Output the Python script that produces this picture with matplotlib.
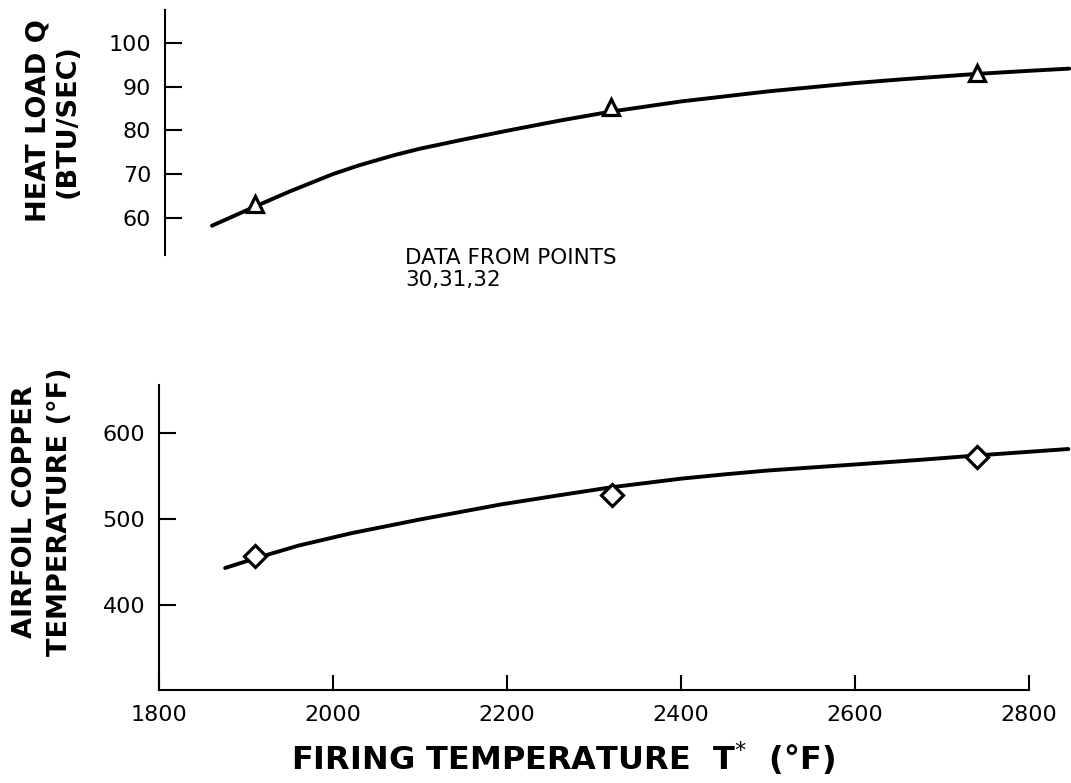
import matplotlib.pyplot as plt

# firing temperature of test points 30, 31, 32 (deg F)
point_temp = [1910, 2320, 2740]
heat_load = [63.2, 85.4, 93.2]          # BTU/sec
copper_temp = [457, 528, 572]           # deg F

# faired curves as drawn in the original figure
heat_curve_x = [1861, 1913, 1950, 2000, 2030, 2070, 2100, 2150, 2185, 2200, 2260,
                2320, 2400, 2500, 2600, 2650, 2740, 2800, 2846]
heat_curve_y = [58.2, 62.8, 66.0, 70.0, 72.0, 74.3, 75.8, 77.9, 79.3, 79.9, 82.2,
                84.3, 86.6, 88.9, 90.8, 91.6, 92.9, 93.6, 94.1]
copper_curve_x = [1876, 1910, 1960, 2021, 2100, 2193, 2262, 2320, 2400, 2450, 2500,
                  2600, 2676, 2740, 2845]
copper_curve_y = [443, 454, 469, 483.5, 499.5, 517, 528, 537, 547, 552, 556.5,
                  563.5, 569, 574, 581.5]

heat_ticks = [60, 70, 80, 90, 100]
copper_ticks = [400, 500, 600]
temp_ticks = [1800, 2000, 2200, 2400, 2600, 2800]

W, H = 1071, 783
fig = plt.figure(figsize=(W / 100, H / 100), dpi=100)


def add_axes_px(left, top, right, bottom):
    return fig.add_axes([left / W, 1 - bottom / H, (right - left) / W, (bottom - top) / H])


# top panel: heat load
ax1 = add_axes_px(165, 10, 1071, 255)
ax1.plot(heat_curve_x, heat_curve_y, color='black', linewidth=2.8,
         solid_capstyle='round', solid_joinstyle='round')
ax1.plot(point_temp, heat_load, linestyle='none', marker='^', markersize=11.5,
         markerfacecolor='white', markeredgecolor='black', markeredgewidth=2.3)
ax1.set_xlim(1807, 2848)
ax1.set_ylim(51.5, 107.5)
ax1.set_yticks(heat_ticks)
ax1.set_xticks([])
for side in ['top', 'right', 'bottom']:
    ax1.spines[side].set_visible(False)
ax1.spines['left'].set_linewidth(1.5)
ax1.tick_params(axis='y', direction='in', length=12, width=1.5, labelsize=16, pad=10)
ax1.patch.set_alpha(0)

# bottom panel: airfoil copper temperature
ax2 = add_axes_px(159, 385, 1071, 690)
ax2.plot(copper_curve_x, copper_curve_y, color='black', linewidth=2.8,
         solid_capstyle='round', solid_joinstyle='round')
ax2.plot(point_temp, copper_temp, linestyle='none', marker='D', markersize=11,
         markerfacecolor='white', markeredgecolor='black', markeredgewidth=2.3)
ax2.set_xlim(1800, 2848)
ax2.set_ylim(301, 656)
ax2.set_yticks(copper_ticks)
ax2.set_xticks(temp_ticks)
ax2.spines['top'].set_visible(False)
ax2.spines['right'].set_visible(False)
ax2.spines['bottom'].set_bounds(1800, 2800)
ax2.spines['left'].set_linewidth(1.5)
ax2.spines['bottom'].set_linewidth(1.5)
ax2.tick_params(axis='y', direction='in', length=12, width=1.5, labelsize=16, pad=10)
ax2.tick_params(axis='x', direction='in', length=11, width=1.5, labelsize=16, pad=11)
ax2.patch.set_alpha(0)

# axis titles
fig.text(39 / W, 1 - 121 / H, 'HEAT LOAD Q', rotation=90, ha='center', va='center',
         fontsize=19.5, fontweight='bold')
fig.text(68 / W, 1 - 121 / H, '(BTU/SEC)', rotation=90, ha='center', va='center',
         fontsize=19.5, fontweight='bold')
fig.text(25 / W, 1 - 512 / H, 'AIRFOIL COPPER', rotation=90, ha='center', va='center',
         fontsize=19.5, fontweight='bold')
fig.text(60 / W, 1 - 512 / H, 'TEMPERATURE (°F)', rotation=90, ha='center', va='center',
         fontsize=19.5, fontweight='bold')
fig.text(563 / W, 1 - 758 / H, 'FIRING TEMPERATURE  T$^{*}$  (°F)', ha='center', va='center',
         fontsize=23, fontweight='bold')

fig.text(405 / W, 1 - 248 / H, 'DATA FROM POINTS\n30,31,32', ha='left', va='top',
         fontsize=15.5, linespacing=1.1)

fig.savefig('out.png', dpi=100)
